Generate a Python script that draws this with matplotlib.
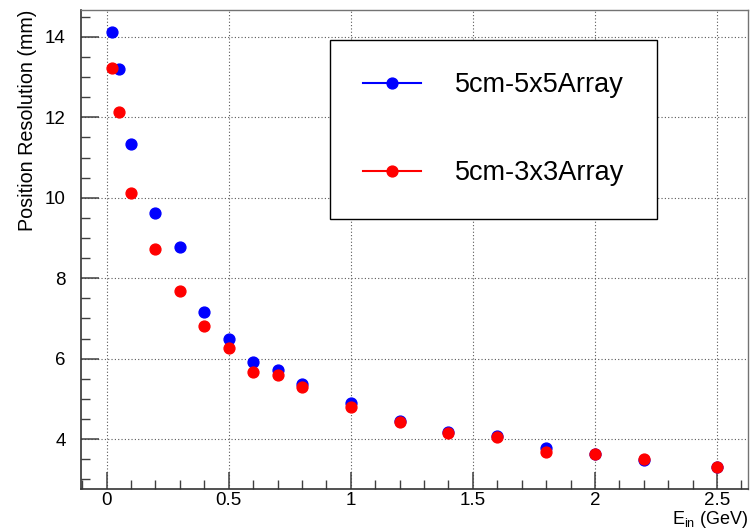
import matplotlib
matplotlib.use("Agg")
import matplotlib.pyplot as plt
from matplotlib.lines import Line2D
from matplotlib.ticker import MultipleLocator

plt.rcParams['font.family'] = ['Liberation Sans', 'DejaVu Sans']
plt.rcParams['mathtext.default'] = 'regular'

# energia incidente (GeV)
energia = [0.02, 0.05, 0.1, 0.2, 0.3, 0.4, 0.5, 0.6, 0.7, 0.8, 1.0, 1.2, 1.4, 1.6, 1.8, 2.0, 2.2, 2.5]
# resolucao em posicao (mm)
res_5x5 = [14.13, 13.2, 11.35, 9.61, 8.78, 7.15, 6.49, 5.91, 5.71, 5.38, 4.90, 4.45, 4.18, 4.07, 3.77, 3.62, 3.48, 3.31]
res_3x3 = [13.22, 12.13, 10.11, 8.73, 7.69, 6.81, 6.26, 5.66, 5.59, 5.29, 4.80, 4.42, 4.14, 4.06, 3.68, 3.62, 3.51, 3.31]
nomes = ["5cm-5x5Array", "5cm-3x3Array"]
cores = ["#0000ff", "#ff0000"]

fig = plt.figure(figsize=(7.53, 5.31), dpi=100)
ax = fig.add_axes([0.1076, 0.0791, 0.8858, 0.9021])

ax.plot(energia, res_5x5, 'o', color=cores[0], ms=7.8, zorder=3)
ax.plot(energia, res_3x3, 'o', color=cores[1], ms=7.8, zorder=4)

ax.set_xlim(-0.105, 2.627)
ax.set_ylim(2.76, 14.67)
ax.xaxis.set_major_locator(MultipleLocator(0.5))
ax.xaxis.set_minor_locator(MultipleLocator(0.1))
ax.yaxis.set_major_locator(MultipleLocator(2))
ax.yaxis.set_minor_locator(MultipleLocator(0.5))
ax.xaxis.set_major_formatter(plt.FuncFormatter(lambda v, p: '%g' % v))

ax.tick_params(which='both', direction='in', top=False, right=False, color='0.25')
ax.tick_params(which='major', length=13, width=1.1, labelsize=13.5)
ax.tick_params(axis='x', which='major', pad=2.5, length=12)
ax.tick_params(axis='y', which='major', pad=11)
ax.tick_params(which='minor', length=6.5, width=1.0)

ax.grid(True, which='major', linestyle=(0, (1, 2)), color='0.35', linewidth=0.8)
ax.set_axisbelow(True)

for lado in ['left', 'bottom']:
    ax.spines[lado].set_color('0.2')
    ax.spines[lado].set_linewidth(1.2)
for lado in ['top', 'right']:
    ax.spines[lado].set_color('0.45')
    ax.spines[lado].set_linewidth(1.0)

ax.set_ylabel('Position Resolution (mm)', fontsize=14.2, loc='top', labelpad=6)
ax.set_xlabel('E$_{in}$ (GeV)', fontsize=13, loc='right', labelpad=0)

handles = [Line2D([], [], color=c, marker='o', ms=7.8, lw=1.5) for c in cores]
leg = ax.legend(handles, nomes, loc='upper left', bbox_to_anchor=(0.374, 0.938),
                fontsize=19.5, frameon=True, fancybox=False, shadow=False,
                borderpad=1.2, handlelength=2.15, handletextpad=1.25,
                labelspacing=2.3, borderaxespad=0)
leg.get_frame().set_edgecolor('black')
leg.get_frame().set_linewidth(1.0)
leg.get_frame().set_alpha(1)

fig.savefig('out.png', dpi=100)
